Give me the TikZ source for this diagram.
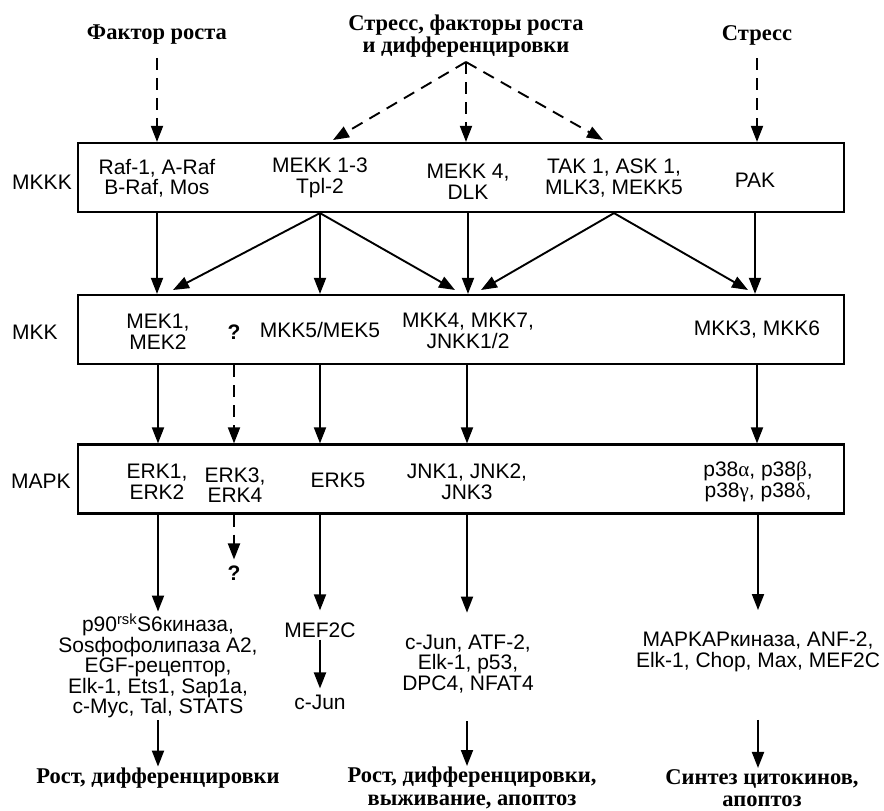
\documentclass[tikz,border=0pt]{standalone}
\usepackage{fontspec}
\setmainfont{Liberation Sans}
\newfontfamily\serifrm{Liberation Serif}
\usetikzlibrary{arrows.meta,calc}
\begin{document}
\begin{tikzpicture}[x=1pt,y=-1pt,
  txt/.style={font=\fontsize{21}{20.5}\selectfont, align=center, inner sep=2pt},
  ttl/.style={font=\serifrm\bfseries\fontsize{22.5}{22.5}\selectfont, align=center, inner sep=1pt},
  level/.style={draw, line width=2.2pt, minimum width=766pt, minimum height=69pt, inner sep=0pt},
  conn/.style={line width=1.9pt, -{Triangle[length=16pt,width=12pt]}},
  dconn/.style={conn, dash pattern=on 12pt off 8pt},
]
\useasboundingbox (0,0) rectangle (884,811);

% titles
\node[ttl] (tGF) at (157,35) {Фактор роста};
\node[ttl] (tSGD) at (466,36) {Стресс, факторы роста\\и дифференцировки};
\node[ttl] (tS) at (757,35) {Стресс};

% level boxes
\node[level] (mkkk) at (461,177.5) {};
\node[level] (mkk) at (461,329.5) {};
\node[level] (mapk) at (461,479) {};

% level labels
\node[txt] (lMKKK) at (42,182) {MKKK};
\node[txt] (lMKK) at (35,332) {MKK};
\node[txt] (lMAPK) at (41,481) {MAPK};

% MKKK contents
\node[txt] (raf) at (157,178) {Raf-1, A-Raf\\B-Raf, Mos};
\node[txt] (mekk) at (320,178) {MEKK 1-3\\Tpl-2};
\node[txt] (mekk4) at (468,182) {MEKK 4,\\DLK};
\node[txt] (tak) at (614,178) {TAK 1, ASK 1,\\MLK3, MEKK5};
\node[txt] (pak) at (755,180) {PAK};

% MKK contents
\node[txt] (mek) at (158,332) {MEK1,\\MEK2};
\node[txt, font=\bfseries\fontsize{21}{20.5}\selectfont] (q1) at (234,332) {?};
\node[txt] (mkk5) at (320,330) {MKK5/MEK5};
\node[txt] (mkk4) at (468,331) {MKK4, MKK7,\\JNKK1/2};
\node[txt] (mkk3) at (757,330) {MKK3, MKK6};

% MAPK contents
\node[txt] (erk12) at (157,482) {ERK1,\\ERK2};
\node[txt] (erk34) at (235,485) {ERK3,\\ERK4};
\node[txt] (erk5) at (338,480) {ERK5};
\node[txt] (jnk) at (467,482) {JNK1, JNK2,\\JNK3};
\node[txt] (p38) at (758,482) {p38{\serifrm α}, p38{\serifrm β},\\p38{\serifrm γ}, p38{\serifrm δ},};

% substrates
\node[txt, font=\bfseries\fontsize{21}{20.5}\selectfont] (q2) at (234,573) {?};
\node[txt] (sub1) at (158,666) {p90\textsuperscript{rsk}S6киназа,\\Sosфофолипаза A2,\\EGF-рецептор,\\Elk-1, Ets1, Sap1a,\\c-Myc, Tal, STATS};
\node[txt] (mef) at (320,630) {MEF2C};
\node[txt] (cjun) at (320,702) {c-Jun};
\node[txt] (sub3) at (468,664) {c-Jun, ATF-2,\\Elk-1, p53,\\DPC4, NFAT4};
\node[txt] (sub4) at (758,652) {MAPKAPкиназа, ANF-2,\\Elk-1, Chop, Max, MEF2C};

% outcomes
\node[ttl] (out1) at (158,778) {Рост, дифференцировки};
\node[ttl] (out2) at (472,788) {Рост, дифференцировки,\\выживание, апоптоз};
\node[ttl] (out3) at (762,788) {Синтез цитокинов,\\апоптоз};

% free ends of the dashed fan and diagonals
\coordinate (apex) at (466,62);
\coordinate (fanL) at (333,140);
\coordinate (fanR) at (603,140);
\coordinate (dA) at (173,290);
\coordinate (dB) at (455,290);
\coordinate (dC) at (481,290);
\coordinate (dD) at (748,290);

% stimulus arrows
\draw[dconn, shorten <=12pt] (tGF.south) -- (tGF.south |- mkkk.north);
\draw[dconn, shorten <=12pt] (tS.south) -- (tS.south |- mkkk.north);
\draw[dconn] (apex) -- (fanL);
\draw[dconn] (apex) -- (apex |- mkkk.north);
\draw[dconn] (apex) -- (fanR);

% MKKK -> MKK
\draw[conn] (mkkk.south -| raf) -- (mkk.north -| raf);
\draw[conn] (mkkk.south -| mekk) -- (dA);
\draw[conn] (mkkk.south -| mekk) -- (mkk.north -| mekk);
\draw[conn] (mkkk.south -| mekk) -- (dB);
\draw[conn] (mkkk.south -| mekk4) -- (mkk.north -| mekk4);
\draw[conn] (mkkk.south -| tak) -- (dC);
\draw[conn] (mkkk.south -| tak) -- (dD);
\draw[conn] (mkkk.south -| pak) -- (mkk.north -| pak);

% MKK -> MAPK
\draw[conn] (mkk.south -| mek) -- (mapk.north -| mek);
\draw[dconn] (mkk.south -| q1) -- (mapk.north -| q1);
\draw[conn] (mkk.south -| mkk5) -- (mapk.north -| mkk5);
\draw[conn] (mkk.south -| jnk) -- (mapk.north -| jnk);
\draw[conn] (mkk.south -| mkk3) -- (mapk.north -| mkk3);

% MAPK -> substrates
\draw[conn] (mapk.south -| sub1) -- (sub1.north);
\draw[dconn, shorten >=4pt] (mapk.south -| q2) -- (q2.north);
\draw[conn, shorten >=10pt] (mapk.south -| mef) -- (mef.north);
\draw[conn, shorten >=4pt] (mef.south) -- (cjun.north);
\draw[conn, shorten >=20pt] (mapk.south -| jnk) -- (sub3.north -| jnk);
\draw[conn, shorten >=20pt] (mapk.south -| p38) -- (sub4.north -| p38);

% substrates -> outcomes
\draw[conn] (sub1.south) -- (out1.north);
\draw[conn, shorten <=26pt] (sub3.south -| jnk) -- (out2.north -| jnk);
\draw[conn, shorten <=46pt] (sub4.south -| p38) -- (out3.north -| p38);
\end{tikzpicture}
\end{document}
